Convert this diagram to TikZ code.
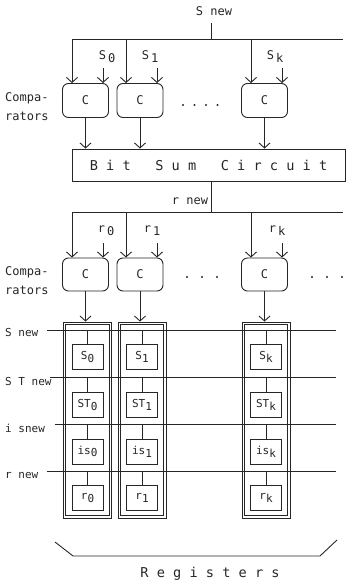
\documentclass[tikz,border=0pt]{standalone}
\usepackage{fontspec}
\setmonofont{DejaVu Sans Mono}
\usetikzlibrary{arrows.meta}
\newcommand\sbs[1]{\raisebox{-0.45ex}{#1}}
\begin{document}
\begin{tikzpicture}[x=1pt,y=-1pt,
  ink/.style={draw=black!85, line width=0.9pt},
  arr/.style={ink, -{Straight Barb[length=5pt,width=11pt]}},
  comp/.style={ink, rounded corners=6pt, minimum width=46pt, minimum height=34pt, inner sep=0pt, text=black!85, font=\fontsize{12}{14}\selectfont\ttfamily},
  regout/.style={ink, line width=0.8pt, minimum width=48pt, minimum height=196pt, inner sep=0pt},
  regin/.style={ink, line width=0.8pt, minimum width=43.5pt, minimum height=191.5pt, inner sep=0pt},
  cell/.style={ink, fill=white, minimum width=31pt, minimum height=25pt, inner sep=0pt, text=black!85, font=\fontsize{11}{13}\selectfont\ttfamily},
  lbl/.style={inner sep=0pt, text=black!85, font=\fontsize{11}{13}\selectfont\ttfamily},
  big/.style={inner sep=0pt, text=black!85, font=\fontsize{13.6}{16}\selectfont\ttfamily},
]
\useasboundingbox (0,0) rectangle (350,587);

% ---------- top: S new bus and first comparators
\node[lbl,font=\fontsize{12}{14}\selectfont\ttfamily] (snew) at (214,11) {S new};
\coordinate (t1) at (72,39);
\coordinate (t2) at (126,39);
\coordinate (tk) at (251,39);
\coordinate (tR) at (343,39);
\coordinate (tM) at (211,39);
\draw[ink] (t1) -- (tR);
\draw[ink] (tM) -- ++(0,-16);

\node[comp] (c1) at (85.5,100.5) {C};
\node[comp] (c2) at (140,100.5) {C};
\node[comp] (ck) at (264.5,100.5) {C};

\draw[arr] (t1) -- (t1 |- c1.north);
\draw[arr] (t2) -- (t2 |- c2.north);
\draw[arr] (tk) -- (tk |- ck.north);

\coordinate (i1) at (103,68);
\coordinate (i2) at (157,68);
\coordinate (ik) at (282,68);
\draw[arr] (i1) -- (i1 |- c1.north);
\draw[arr] (i2) -- (i2 |- c2.north);
\draw[arr] (ik) -- (ik |- ck.north);

\node[lbl,font=\fontsize{12}{14}\selectfont\ttfamily] (ls0) at (107,57) {S\,\sbs{0}};
\node[lbl,font=\fontsize{12}{14}\selectfont\ttfamily] (ls1) at (150,57) {S\,\sbs{1}};
\node[lbl,font=\fontsize{12}{14}\selectfont\ttfamily] (lsk) at (275,57) {S\,\sbs{k}};

\node[lbl, align=left, anchor=west, font=\fontsize{12}{19}\selectfont\ttfamily] (cmp1) at (5,107) {Compa-\\rators};

\foreach \x in {183,194.5,206,217.5} \fill[black!85] (\x,105) circle (1.1pt);

% ---------- Bit Sum Circuit
\node[ink, minimum width=273pt, minimum height=32pt, inner sep=0pt] (bsc) at (208.5,165) {};
\node[big] (bsctext) at (bsc.center) {B i t\ \ \ S u m\ \ \ C i r c u i t};
\draw[arr] (c1.south) -- (c1.south |- bsc.north);
\draw[arr] (c2.south) -- (c2.south |- bsc.north);
\draw[arr] (ck.south) -- (ck.south |- bsc.north);

% ---------- r new bus and second comparators
\coordinate (u1) at (72,212);
\coordinate (u2) at (126,212);
\coordinate (uk) at (251,212);
\coordinate (uR) at (343,212);
\coordinate (uM) at (211,212);
\draw[ink] (u1) -- (uR);
\draw[ink] (bsc.south -| uM) -- (uM);
\node[lbl,font=\fontsize{12}{14}\selectfont\ttfamily] (rnew) at (190,201) {r new};

\node[comp, minimum height=33pt] (d1) at (85.5,274.5) {C};
\node[comp, minimum height=33pt] (d2) at (140,274.5) {C};
\node[comp, minimum height=33pt] (dk) at (264.5,274.5) {C};

\draw[arr] (u1) -- (u1 |- d1.north);
\draw[arr] (u2) -- (u2 |- d2.north);
\draw[arr] (uk) -- (uk |- dk.north);

\coordinate (j1) at (103,243);
\coordinate (j2) at (157,243);
\coordinate (jk) at (282,243);
\draw[arr] (j1) -- (j1 |- d1.north);
\draw[arr] (j2) -- (j2 |- d2.north);
\draw[arr] (jk) -- (jk |- dk.north);

\node[lbl,font=\fontsize{12}{14}\selectfont\ttfamily] (lr0) at (106,231) {r\,\sbs{0}};
\node[lbl,font=\fontsize{12}{14}\selectfont\ttfamily] (lr1) at (152,231) {r\,\sbs{1}};
\node[lbl,font=\fontsize{12}{14}\selectfont\ttfamily] (lrk) at (277,231) {r\,\sbs{k}};

\node[lbl, align=left, anchor=west, font=\fontsize{12}{19}\selectfont\ttfamily] (cmp2) at (5,281) {Compa-\\rators};

\foreach \x in {187,202,217,312,327,342} \fill[black!85] (\x,277) circle (1.1pt);

% ---------- register columns (double outline)
\foreach \c/\xx in {1/87.5, 2/142, k/266}{
  \node[regout] (reg\c) at (\xx,420) {};
  \node[regin] (regi\c) at (\xx,420) {};
}

\draw[arr] (d1.south) -- (d1.south |- reg1.north);
\draw[arr] (d2.south) -- (d2.south |- reg2.north);
\draw[arr] (dk.south) -- (dk.south |- regk.north);

% buses
\coordinate (bsL) at (47,330);   \coordinate (bsR) at (336,330);
\coordinate (btL) at (50,377);   \coordinate (btR) at (336,377);
\coordinate (biL) at (55,424);   \coordinate (biR) at (336,424);
\coordinate (brL) at (47,471);   \coordinate (brR) at (336,471);
\draw[ink] (bsL) -- (bsR);
\draw[ink] (btL) -- (btR);
\draw[ink] (biL) -- (biR);
\draw[ink] (brL) -- (brR);

\node[lbl, anchor=west] (lsnew) at (5,332) {S new};
\node[lbl, anchor=west] (lstnew) at (5,381) {S T new};
\node[lbl, anchor=west] (lisnew) at (5,428) {i snew};
\node[lbl, anchor=west] (lrnew) at (5,475) {r new};

% cells
\foreach \c/\xx/\s in {1/87.5/0, 2/142/1, k/266/k}{
  \node[cell] (s\c)  at (\xx,357) {S\sbs{\s}};
  \node[cell] (st\c) at (\xx,405) {ST\sbs{\s}};
  \node[cell] (is\c) at (\xx,451.5) {is\sbs{\s}};
  \node[cell] (r\c)  at (\xx,498) {r\sbs{\s}};
  \draw[ink] (s\c.north |- bsL) -- (s\c.north);
  \draw[ink] (st\c.north |- btL) -- (st\c.north);
  \draw[ink] (is\c.north |- biL) -- (is\c.north);
  \draw[ink] (r\c.north |- brL) -- (r\c.north);
}

% ---------- Registers bracket
\draw[ink] (55,542) -- (73,556) -- (320,556) -- (337,540);
\node[big] (regs) at (210,574) {R e g i s t e r s};
\end{tikzpicture}
\end{document}
